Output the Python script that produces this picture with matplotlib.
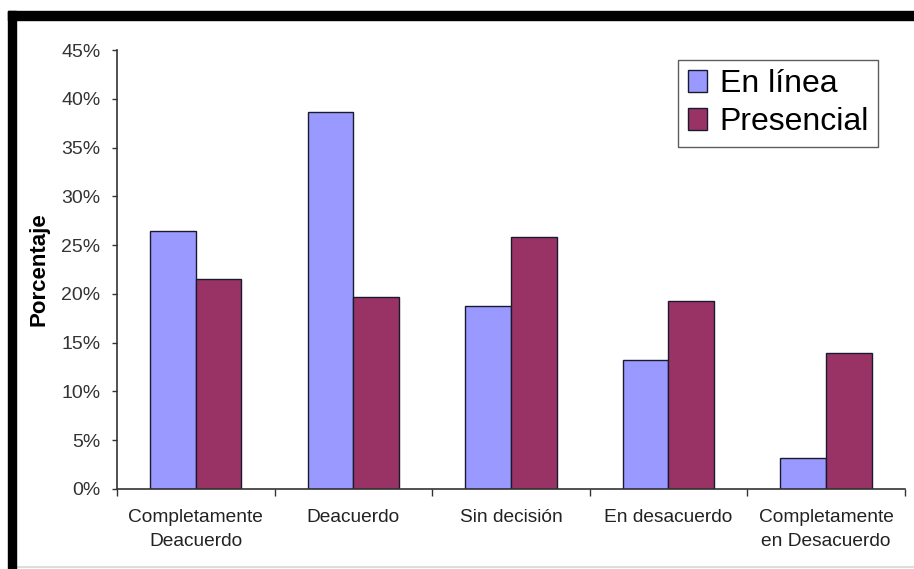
import matplotlib
matplotlib.use("Agg")
import matplotlib.pyplot as plt
from matplotlib.patches import Rectangle
from matplotlib.lines import Line2D
import numpy as np

categories = ["Completamente\nDeacuerdo", "Deacuerdo", "Sin decisión",
              "En desacuerdo", "Completamente\nen Desacuerdo"]
en_linea = [26.4, 38.6, 18.8, 13.2, 3.2]
presencial = [21.5, 19.7, 25.8, 19.3, 13.9]
yticks = np.arange(0, 50, 5)

plt.rcParams["font.family"] = ["Liberation Sans", "DejaVu Sans"]

fig = plt.figure(figsize=(9.14, 5.69), dpi=100)
ax = fig.add_axes([0.128, 0.1406, 0.862, 0.7715])

x = np.arange(len(categories))
w = 0.29
ax.bar(x - w / 2, en_linea, w, color="#9999FF", edgecolor="#1a1a2e",
       linewidth=1.0, label="En línea")
ax.bar(x + w / 2, presencial, w, color="#993366", edgecolor="#1a1a2e",
       linewidth=1.0, label="Presencial")

ax.set_xlim(-0.5, len(categories) - 0.5)
ax.set_ylim(0, 45)
ax.set_yticks(yticks)
ax.set_yticklabels([f"{v}%" for v in yticks], fontsize=14, color="#333333")
ax.set_xticks(x)
ax.set_xticklabels(categories, fontsize=13.8, color="#222222", linespacing=1.55)
ax.set_xticks(np.arange(-0.5, len(categories)), minor=True)
ax.tick_params(axis="x", which="major", length=0, pad=14.5)
ax.tick_params(axis="x", which="minor", length=5, width=1.0, color="#333333")
ax.tick_params(axis="y", length=3.5, width=1.0, color="#333333", pad=8.5)

for side in ("top", "right"):
    ax.spines[side].set_visible(False)
for side in ("left", "bottom"):
    ax.spines[side].set_color("#333333")
    ax.spines[side].set_linewidth(1.2)

ax.set_ylabel("Porcentaje", fontsize=16, fontweight="bold", labelpad=8)

leg = ax.legend(loc="upper right", bbox_to_anchor=(0.9665, 0.978), fontsize=23,
                frameon=True, fancybox=False, edgecolor="#333333",
                handlelength=0.6, handleheight=0.65, handletextpad=0.4,
                borderpad=0.3, labelspacing=0.25, borderaxespad=0)
leg.get_frame().set_linewidth(1.0)

# black frame on top and left, thin grey line along the bottom
fig.add_artist(Rectangle((8 / 914, 1 - 20 / 569), 1, 9 / 569,
                         transform=fig.transFigure, color="black", zorder=10))
fig.add_artist(Rectangle((8 / 914, 0), 8 / 914, 1 - 11 / 569,
                         transform=fig.transFigure, color="black", zorder=10))
fig.add_artist(Line2D([16 / 914, 1], [2 / 569, 2 / 569],
                      transform=fig.transFigure, color="#dddddd", lw=1.5))

fig.savefig("out.png", dpi=100)
